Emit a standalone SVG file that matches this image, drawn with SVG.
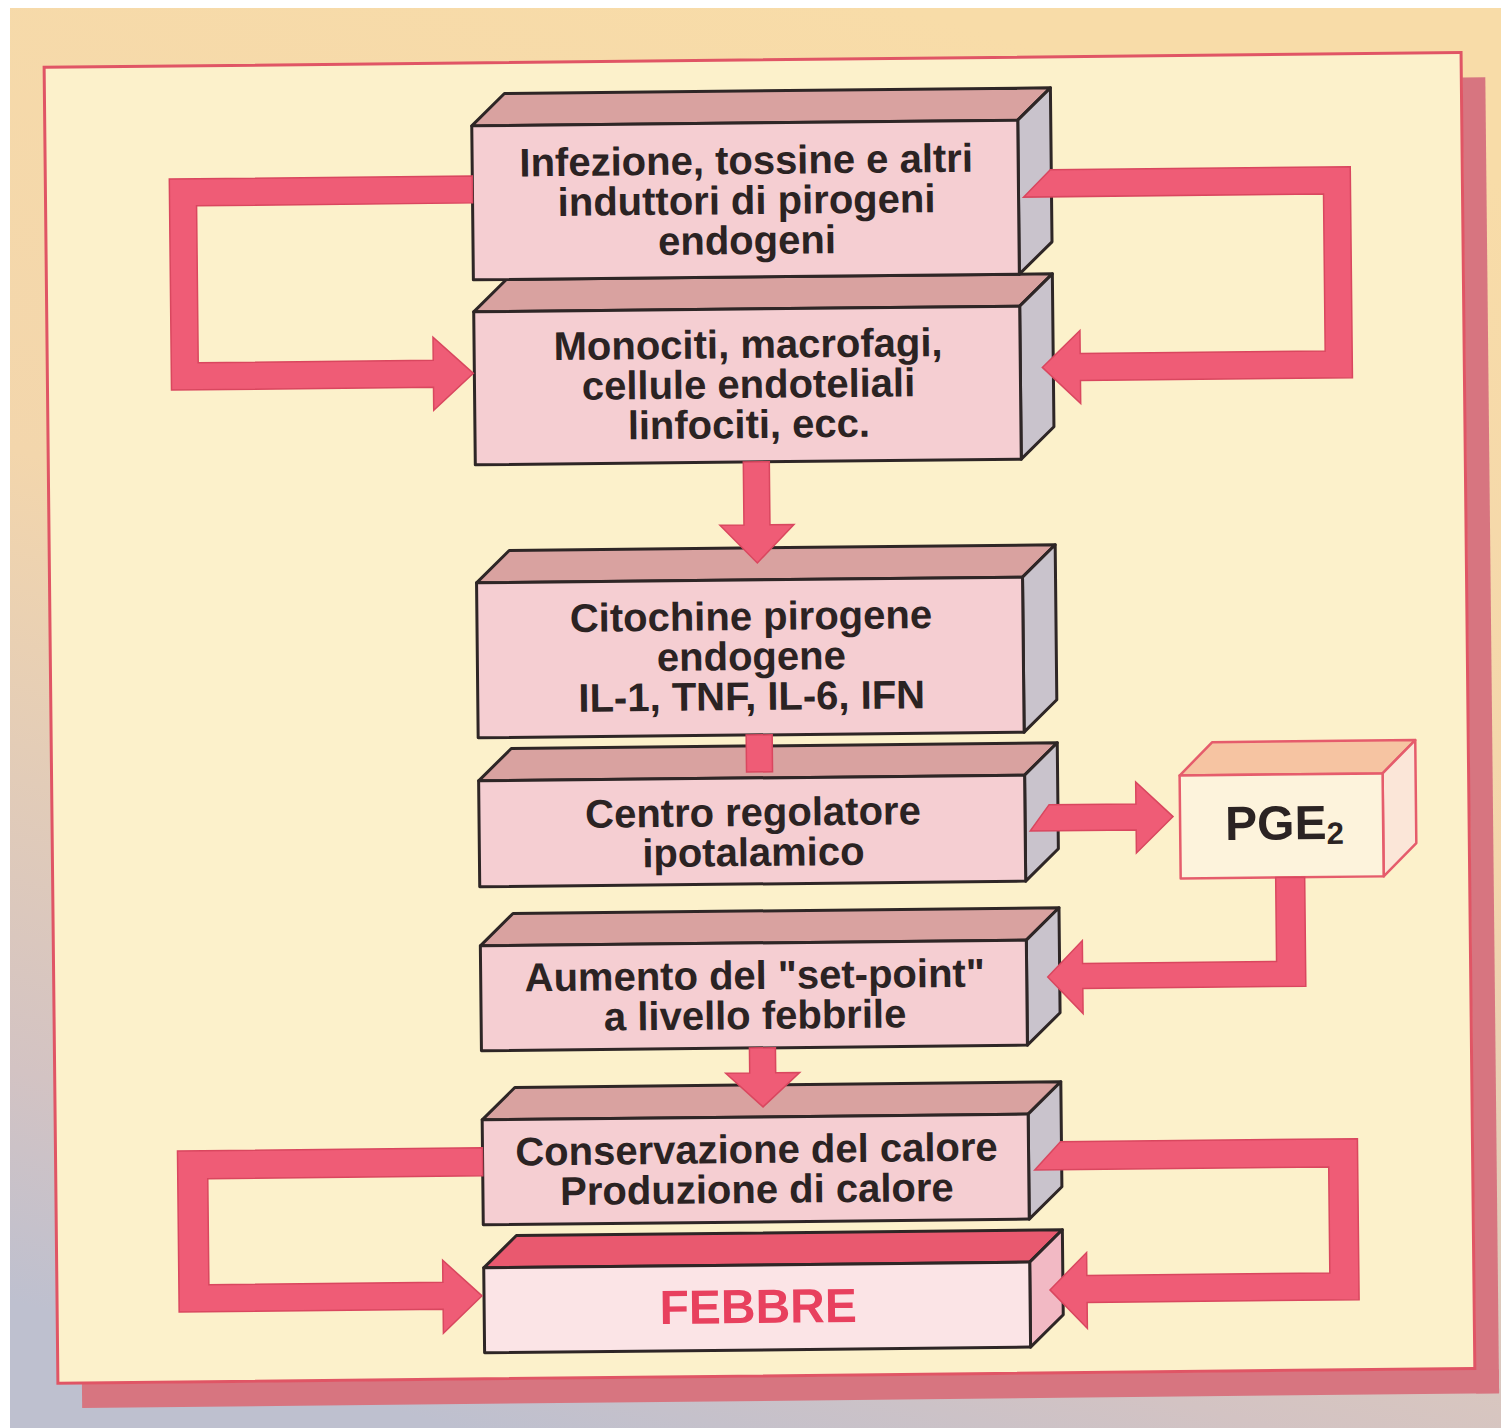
<svg xmlns="http://www.w3.org/2000/svg" width="1501" height="1428" viewBox="0 0 1501 1428">
<defs>
<linearGradient id="bg" x1="0.6" y1="0" x2="0.3" y2="1">
<stop offset="0" stop-color="#f8dca8"/>
<stop offset="0.45" stop-color="#f3d6ac"/>
<stop offset="0.85" stop-color="#d3c3c3"/>
<stop offset="1" stop-color="#bec0cf"/>
</linearGradient>
</defs>
<style>
.front{fill:#f5ced2;stroke:#2e2626;stroke-width:3;stroke-linejoin:round}
.top{fill:#d9a2a0;stroke:#2e2626;stroke-width:3;stroke-linejoin:round}
.side{fill:#c9c3cc;stroke:#2e2626;stroke-width:3;stroke-linejoin:round}
.lbl{font-family:"Liberation Sans",Arial,Helvetica,sans-serif;font-weight:bold;font-size:40px;fill:#2b2323;text-anchor:middle}
.arrow{fill:#ef5c76;stroke:#d9475f;stroke-width:1.5;stroke-linejoin:miter}
.pge{stroke:#e55c6c;stroke-width:2.5;stroke-linejoin:round}
</style>
<rect x="0" y="0" width="1501" height="1428" fill="#ffffff"/>
<rect x="10" y="8" width="1491" height="1420" fill="url(#bg)"/>
<g transform="rotate(-0.6 750 720)">
<g id="panel">
<rect x="1469" y="85" width="23" height="1316" fill="#d77580"/>
<rect x="75" y="1377" width="1417" height="24" fill="#d77580"/>
<rect x="51" y="60" width="1417" height="1316" fill="#fcf1cb" stroke="#e05565" stroke-width="3"/>
</g>
<g id="node-monociti">
<polygon class="top" points="478,309 511,277 1057,277 1024,309"/>
<polygon class="side" points="1024,309 1057,277 1057,430 1024,462"/>
<rect class="front" x="478" y="309" width="546" height="153"/>
<text class="lbl" x="752" y="358">Monociti, macrofagi,</text>
<text class="lbl" x="752" y="398">cellule endoteliali</text>
<text class="lbl" x="752" y="438">linfociti, ecc.</text>
</g>
<g id="node-infezione">
<polygon class="top" points="478,123 511,91 1057,91 1024,123"/>
<polygon class="side" points="1024,123 1057,91 1057,245 1024,277"/>
<rect class="front" x="478" y="123" width="546" height="154"/>
<text class="lbl" x="752" y="174">Infezione, tossine e altri</text>
<text class="lbl" x="752" y="214">induttori di pirogeni</text>
<text class="lbl" x="752" y="254">endogeni</text>
</g>
<g id="node-citochine">
<polygon class="top" points="478,580 511,548 1057,548 1024,580"/>
<polygon class="side" points="1024,580 1057,548 1057,703 1024,735"/>
<rect class="front" x="478" y="580" width="546" height="155"/>
<text class="lbl" x="752" y="630">Citochine pirogene</text>
<text class="lbl" x="752" y="670">endogene</text>
<text class="lbl" x="752" y="710">IL-1, TNF, IL-6, IFN</text>
</g>
<g id="node-centro">
<polygon class="top" points="478,778 511,746 1057,746 1024,778"/>
<polygon class="side" points="1024,778 1057,746 1057,852 1024,884"/>
<rect class="front" x="478" y="778" width="546" height="106"/>
<text class="lbl" x="752" y="826">Centro regolatore</text>
<text class="lbl" x="752" y="866">ipotalamico</text>
</g>
<g id="node-pge2">
<polygon class="pge" fill="#f6c4a2" points="1179,780 1212,747 1415,747 1382,780"/>
<polygon class="pge" fill="#fbe6d8" points="1382,780 1415,747 1415,850 1382,883"/>
<rect class="pge" fill="#fdf3dc" x="1179" y="780" width="203" height="103"/>
<text x="1224" y="845" font-family="Liberation Sans, Arial, sans-serif" font-weight="bold" font-size="48" fill="#2b2323">PGE<tspan font-size="31" dy="5">2</tspan></text>
</g>
<g id="node-setpoint">
<polygon class="top" points="478,943 511,911 1057,911 1024,943"/>
<polygon class="side" points="1024,943 1057,911 1057,1016 1024,1048"/>
<rect class="front" x="478" y="943" width="546" height="105"/>
<text class="lbl" x="752" y="989">Aumento del &quot;set-point&quot;</text>
<text class="lbl" x="752" y="1029">a livello febbrile</text>
</g>
<g id="node-calore">
<polygon class="top" points="478,1117 511,1085 1057,1085 1024,1117"/>
<polygon class="side" points="1024,1117 1057,1085 1057,1190 1024,1222"/>
<rect class="front" x="478" y="1117" width="546" height="105"/>
<text class="lbl" x="752" y="1163">Conservazione del calore</text>
<text class="lbl" x="752" y="1203">Produzione di calore</text>
</g>
<g id="node-febbre">
<polygon class="top" style="fill:#e9596f" points="478,1265 511,1233 1057,1233 1024,1265"/>
<polygon class="side" style="fill:#f2b9c4" points="1024,1265 1057,1233 1057,1318 1024,1350"/>
<rect class="front" style="fill:#fbe4e6" x="478" y="1265" width="546" height="85"/>
<text class="lbl" x="752" y="1323" style="font-size:48px;fill:#e8405e">FEBBRE</text>
</g>
<g id="connectors">
<polygon class="arrow" points="478,173 175,173 175,384 437,384 437,407 477,370.5 437,334 437,357 202,357 202,200 478,200"/>
<polygon class="arrow" points="1056,173 1356,173 1356,384 1084,384 1084,407 1046,370.5 1084,334 1084,357 1329,357 1329,200 1029,200"/>
<polygon class="arrow" points="746,462 772,462 772,525 796,525 759,563 722,525 746,525"/>
<rect class="arrow" x="746" y="735" width="26" height="37"/>
<polygon class="arrow" points="1048,808 1135,808 1135,786 1172,821 1135,857 1135,834 1029,834"/>
<polygon class="arrow" points="1274,883 1303,883 1303,992 1080,992 1080,1017 1045,980 1080,944 1080,967 1274,967"/>
<polygon class="arrow" points="746,1048 772,1048 772,1073 796,1073 759,1107 722,1073 746,1073"/>
<polygon class="arrow" points="478,1145 173,1145 173,1306 437,1306 437,1330 476,1293 437,1257 437,1279 203,1279 203,1173 478,1173"/>
<polygon class="arrow" points="1056,1145 1353,1145 1353,1306 1081,1306 1081,1332 1044,1293 1081,1256 1081,1279 1324,1279 1324,1173 1030,1173"/>
</g>
</g>
</svg>
